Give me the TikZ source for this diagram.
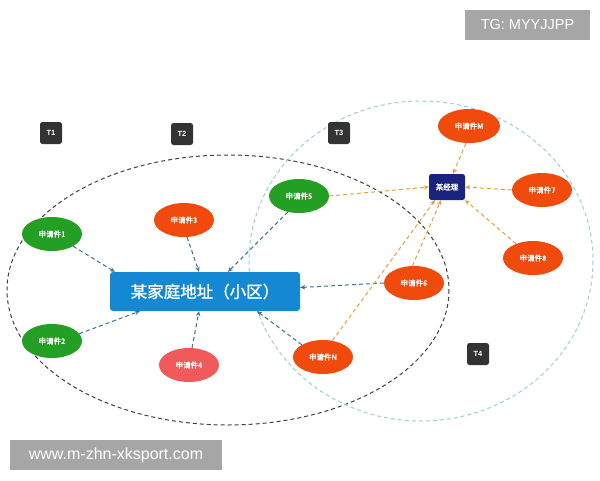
\documentclass[tikz,border=0pt]{standalone}
\usepackage{fontspec}
\setmainfont{Liberation Sans}
\newfontfamily\cjk{Noto Sans CJK SC}[FakeBold=1.2]
\newfontfamily\cjkb{Noto Sans CJK SC}[FakeBold=2]
\usetikzlibrary{shapes.geometric,arrows.meta}
\definecolor{gbox}{HTML}{A6A6A6}
\definecolor{tagc}{HTML}{333333}
\definecolor{grn}{HTML}{23A023}
\definecolor{ora}{HTML}{F04A0C}
\definecolor{pnk}{HTML}{F05A5A}
\definecolor{mainb}{HTML}{1488D2}
\definecolor{navy}{HTML}{1A237E}
\definecolor{barr}{HTML}{3A7396}
\definecolor{oarr}{HTML}{E5A23C}
\definecolor{lcirc}{HTML}{9CCFD8}
\tikzset{
  req/.style={ellipse, minimum width=60pt, minimum height=34pt, inner sep=0pt, text=white, font=\cjkb\fontsize{7.5}{8}\selectfont},
  tagbox/.style={fill=tagc, rounded corners=2.5pt, minimum width=22pt, minimum height=22pt, inner sep=0pt, text=white, font=\fontsize{7.5}{8}\selectfont\bfseries},
  bluearr/.style={draw=barr, line width=1pt, dash pattern=on 4pt off 3pt, -{Stealth[length=5pt,width=4.5pt]}},
  orarr/.style={draw=oarr, line width=1pt, dash pattern=on 4pt off 3pt, -{Stealth[length=5pt,width=4.5pt]}},
  wmark/.style={fill=gbox, text=white, inner sep=0pt}
}
\begin{document}
\begin{tikzpicture}[x=1pt,y=-1pt]
\useasboundingbox (0,0) rectangle (600,480);
\fill[white] (0,0) rectangle (600,480);
% big dashed regions
\draw[black!75, line width=1pt, dash pattern=on 4pt off 3pt] (228,290) ellipse [x radius=221, y radius=135];
\draw[lcirc, line width=1pt, dash pattern=on 4pt off 3pt] (421,261) ellipse [x radius=172, y radius=160];
% watermarks
\node[wmark, minimum width=125pt, minimum height=30pt, font=\fontsize{14.5}{16}\selectfont] (tg) at (527.5,25) {TG: MYYJJPP};
\node[wmark, minimum width=212pt, minimum height=30pt, font=\fontsize{16}{18}\selectfont] (www) at (116,455) {www.m-zhn-xksport.com};
% tags
\node[tagbox] (t1) at (51,133) {T1};
\node[tagbox] (t2) at (182,134) {T2};
\node[tagbox] (t3) at (339,133) {T3};
\node[tagbox] (t4) at (478,354) {T4};
% main box
\node[fill=mainb, rounded corners=3pt, minimum width=190pt, minimum height=39pt, inner sep=0pt, text=white, font=\cjk\fontsize{16.5}{18}\selectfont] (main) at (205,291.5) {某家庭地址（小区）};
% manager
\node[fill=navy, rounded corners=2.5pt, minimum width=36pt, minimum height=26pt, inner sep=0pt, text=white, font=\cjkb\fontsize{7.5}{8}\selectfont] (mgr) at (447,187) {某经理};
% requests
\node[req, fill=grn] (n1) at (52,234) {申请件1};
\node[req, fill=grn] (n2) at (52,341) {申请件2};
\node[req, fill=ora] (n3) at (184,220) {申请件3};
\node[req, fill=pnk] (n4) at (189,365) {申请件4};
\node[req, fill=grn] (n5) at (299,196) {申请件5};
\node[req, fill=ora] (n6) at (414,283) {申请件6};
\node[req, fill=ora] (nN) at (323,357) {申请件N};
\node[req, fill=ora, minimum width=62pt] (nM) at (469,126) {申请件M};
\node[req, fill=ora] (n7) at (542,190) {申请件7};
\node[req, fill=ora] (n8) at (533,258) {申请件8};
% blue arrows to main
\draw[bluearr] (n1.-30) -- ([xshift=5pt]main.north west);
\draw[bluearr] (n2.15) -- ([xshift=30pt]main.south west);
\draw[bluearr] (n3.-80) -- ([xshift=-6pt]main.north);
\draw[bluearr] (n4.80) -- ([xshift=-6pt]main.south);
\draw[bluearr] (n5.-125) -- ([xshift=23pt]main.north);
\draw[bluearr] (n6.west) -- ([yshift=4pt]main.east);
\draw[bluearr] (nN.150) -- ([xshift=52pt]main.south);
% orange arrows to manager
\draw[orarr] (n5.east) -- (mgr.west);
\draw[orarr] (nM.-100) -- ([xshift=6pt]mgr.north);
\draw[orarr] (n7.west) -- (mgr.east);
\draw[orarr] (n8.140) -- (mgr.south east);
\draw[orarr] (n6.95) -- ([xshift=-6pt]mgr.south);
\draw[orarr] (nN.60) -- ([xshift=-12pt]mgr.south);
\end{tikzpicture}
\end{document}
